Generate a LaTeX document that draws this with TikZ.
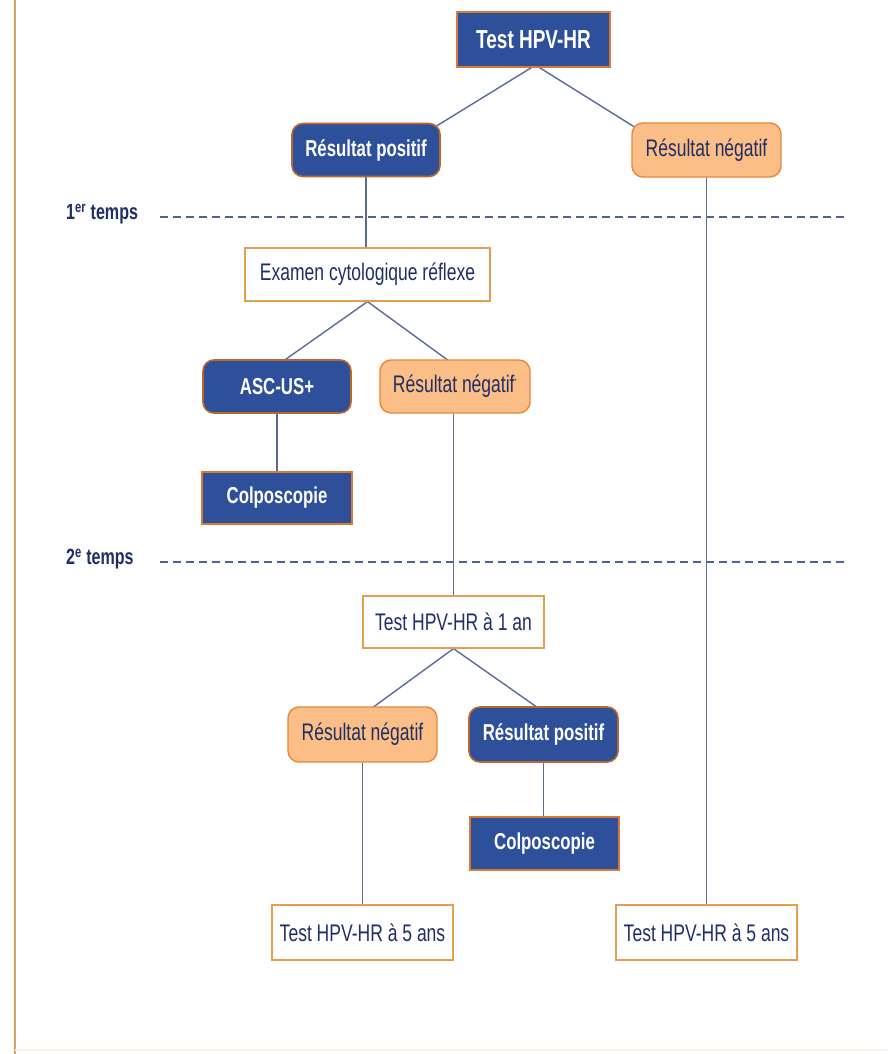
\documentclass[tikz,border=0pt]{standalone}
\usepackage{fontspec}
\setmainfont{Liberation Sans}[FakeStretch=0.73]
\usetikzlibrary{calc,backgrounds}
\definecolor{bluefill}{HTML}{2E4F9A}
\definecolor{orfill}{HTML}{FBBE86}
\definecolor{orborder}{HTML}{E4893C}
\definecolor{bluebord}{HTML}{D97A34}
\definecolor{navy}{HTML}{1F2F66}
\definecolor{linec}{HTML}{5A6C96}
\definecolor{dashc}{HTML}{4F6290}
\definecolor{framec}{HTML}{D9A266}
\definecolor{boxbord}{HTML}{E0A050}
\begin{document}
\begin{tikzpicture}[x=1pt,y=-1pt,
  base/.style={inner sep=0pt, align=center, font=\fontsize{24}{26}\selectfont},
  bluebox/.style={base, fill=bluefill, draw=bluebord, line width=1.2pt, text=white, font=\fontsize{23}{25}\selectfont\bfseries},
  bluerounded/.style={bluebox, rounded corners=11pt, line width=1.6pt, draw=bluebord!85!black},
  orrounded/.style={base, fill=orfill, draw=orborder, line width=1.4pt, rounded corners=11pt, text=navy},
  whitebox/.style={base, fill=white, draw=boxbord, line width=1.2pt, text=navy},
  conn/.style={draw=linec, line width=1.4pt},
  dashline/.style={draw=dashc, line width=1.1pt, dash pattern=on 8pt off 5pt},
  tlabel/.style={inner sep=0pt, anchor=west, text=navy, font=\fontsize{22}{24}\selectfont\bfseries}
]
\begin{scope}[on background layer]
\fill[white] (0,0) rectangle (889,1054);
\end{scope}
\useasboundingbox (0,0) rectangle (889,1054);
% frame
\coordinate (fa) at (15,0);
\coordinate (fb) at (15,1054);
\coordinate (fc) at (15,1050);
\coordinate (fd) at (889,1050);
\draw[draw=framec, line width=2pt] (fa) -- (fb);
\draw[draw=orange!10, line width=1.5pt] (fc) -- (fd);

% nodes
\node[bluebox, minimum width=153pt, minimum height=55pt, font=\fontsize{26}{28}\selectfont\bfseries] (top) at (533.5,39.5) {Test HPV-HR};
\node[bluerounded, minimum width=148pt, minimum height=53pt] (pos1) at (366,150) {Résultat positif};
\node[orrounded, minimum width=149pt, minimum height=54pt] (neg1) at (706.5,150) {Résultat négatif};
\node[whitebox, minimum width=245pt, minimum height=53pt] (exam) at (367.5,274.5) {Examen cytologique réflexe};
\node[bluerounded, minimum width=148pt, minimum height=53pt] (asc) at (277,386.5) {ASC-US+};
\node[orrounded, minimum width=150pt, minimum height=53pt] (neg2) at (455,386.5) {Résultat négatif\textsuperscript{\scriptsize*}};
\node[bluebox, minimum width=150pt, minimum height=52pt] (col1) at (277,498) {Colposcopie};
\node[whitebox, minimum width=181pt, minimum height=52pt] (t1an) at (453.5,622) {Test HPV-HR à 1 an};
\node[orrounded, minimum width=149pt, minimum height=55pt] (neg3) at (362.5,734.5) {Résultat négatif};
\node[bluerounded, minimum width=149pt, minimum height=55pt] (pos3) at (543.5,734.5) {Résultat positif};
\node[bluebox, minimum width=149pt, minimum height=53pt] (col2) at (544.5,843.5) {Colposcopie};
\node[whitebox, minimum width=181pt, minimum height=55pt] (t5a) at (362.5,932.5) {Test HPV-HR à 5 ans};
\node[whitebox, minimum width=181pt, minimum height=55pt] (t5b) at (706.5,932.5) {Test HPV-HR à 5 ans};

% time labels and dashed lines
\node[tlabel] (l1) at (66,214) {1\textsuperscript{er} temps};
\node[tlabel] (l2) at (66,559) {2\textsuperscript{e} temps};
\coordinate (d1a) at (160,217);
\coordinate (d1b) at (845,217);
\coordinate (d2a) at (160,562);
\coordinate (d2b) at (845,562);

\begin{pgfonlayer}{background}
\draw[dashline] (d1a) -- (d1b);
\draw[dashline] (d2a) -- (d2b);
\draw[conn] ($(top.south)+(-2,0)$) -- ($(pos1.north)+(71,3)$);
\draw[conn] ($(top.south)+(6,0)$) -- ($(neg1.north)+(-71.5,5)$);
\draw[conn] (pos1.south) -- (pos1.south |- exam.north);
\draw[conn] (exam.south) -- ($(asc.north)+(6,2)$);
\draw[conn] (exam.south) -- ($(neg2.north)+(-7,1)$);
\draw[conn] (asc.south) -- (col1.north);
\draw[conn] (t1an.north) -- (t1an.north |- neg2.south);
\draw[conn] (t1an.south) -- ($(neg3.north)+(10.5,1)$);
\draw[conn] (t1an.south) -- ($(pos3.north)+(-6.5,1)$);
\draw[conn] (pos3.south) -- (pos3.south |- col2.north);
\draw[conn] (neg3.south) -- (t5a.north);
\draw[conn] (neg1.south) -- (t5b.north);
\end{pgfonlayer}
\end{tikzpicture}
\end{document}
